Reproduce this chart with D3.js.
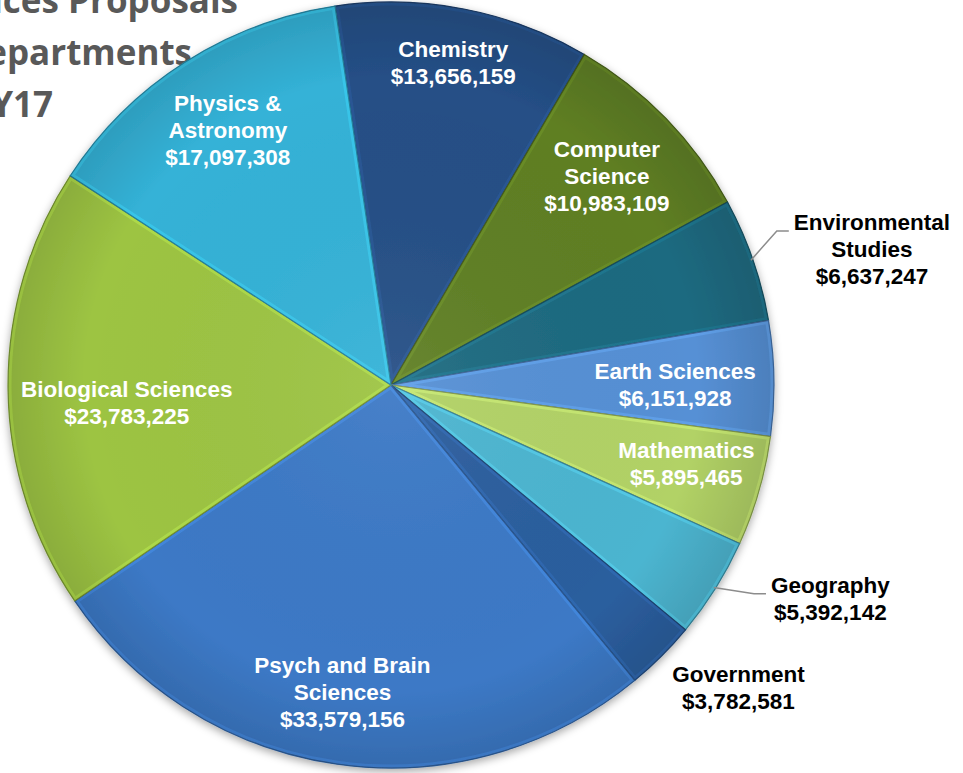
<!DOCTYPE html>
<html>
<head>
<meta charset="utf-8">
<script src="https://cdn.jsdelivr.net/npm/d3@7"></script>
<style>
  body { margin: 0; background: #fff; }
  svg { display: block; }
</style>
</head>
<body>
<div id="viz"></div>
<script>
// Data
const departments = ["Chemistry", "Computer\nScience", "Environmental\nStudies", "Earth Sciences",
    "Mathematics", "Geography", "Government", "Psych and Brain\nSciences",
    "Biological Sciences", "Physics &\nAstronomy"];
const amounts = [13656159, 10983109, 6637247, 6151928, 5895465, 5392142, 3782581, 33579156, 23783225, 17097308];
const colors = ["#254f86", "#5f7f24", "#1d6a80", "#5690d5", "#b2d266", "#4cb5d0", "#2b5e9e", "#3c79c6", "#9dc443", "#34b2d7"];
const titleLines = ["Sciences Proposals", "by Departments", "FY17"];

const width = 963;
const height = 773;
const cx = 391, cy = 385, R = 383;

// label placement: radius factor + nudge, outside labels are black with leaders
const labelLayout = [
    { k: 0.855, dx: 0, dy: -1 },
    { k: 0.785, dx: 0, dy: 0 },
    { k: 1.26, dx: 25, dy: 22, outside: true, leader: true },
    { k: 0.742, dx: 0, dy: 4 },
    { k: 0.797, dx: 2, dy: -6 },
    { k: 1.2, dx: 50, dy: -31, outside: true, leader: true },
    { k: 1.2, dx: 23, dy: -23, outside: true },
    { k: 0.81, dx: -5, dy: 0 },
    { k: 0.69, dx: 0, dy: 15 },
    { k: 0.79, dx: 0, dy: 0 }
];

const svg = d3.select("#viz")
    .append("svg")
    .attr("width", width)
    .attr("height", height);

const defs = svg.append("defs");

const shadow = defs.append("filter")
    .attr("id", "shadow")
    .attr("x", "-10%").attr("y", "-10%")
    .attr("width", "120%").attr("height", "120%");
shadow.append("feDropShadow")
    .attr("dx", 0).attr("dy", 3)
    .attr("stdDeviation", 4)
    .attr("flood-color", "#000")
    .attr("flood-opacity", 0.35);

// rim shading for a slight domed look
const rim = defs.append("radialGradient")
    .attr("id", "rim")
    .attr("cx", "50%").attr("cy", "50%").attr("r", "50%");
rim.append("stop").attr("offset", "0%").attr("stop-color", "#fff").attr("stop-opacity", 0.06);
rim.append("stop").attr("offset", "80%").attr("stop-color", "#000").attr("stop-opacity", 0);
rim.append("stop").attr("offset", "100%").attr("stop-color", "#000").attr("stop-opacity", 0.12);

// Title (runs off the left edge like the source slide)
svg.append("g")
    .selectAll("text")
    .data(titleLines)
    .join("text")
    .attr("x", (d, i) => [238, 192, 53][i])
    .attr("y", (d, i) => 13 + i * 52)
    .attr("text-anchor", "end")
    .style("font-family", "'Open Sans', sans-serif")
    .style("font-weight", "bold")
    .style("font-size", "35px")
    .style("fill", "#595959")
    .text(d => d);

const data = departments.map((name, i) => ({ name, amount: amounts[i], color: colors[i], layout: labelLayout[i] }));

const start = -8.4 * Math.PI / 180;
const pie = d3.pie()
    .sort(null)
    .value(d => d.amount)
    .startAngle(start)
    .endAngle(start + 2 * Math.PI);

const arcs = pie(data);

const arc = d3.arc().innerRadius(0).outerRadius(R);

const g = svg.append("g")
    .attr("transform", `translate(${cx},${cy})`);

const pieG = g.append("g").attr("filter", "url(#shadow)");

arcs.forEach((a, i) => {
    defs.append("clipPath")
        .attr("id", "clip" + i)
        .append("path")
        .attr("d", arc(a));
});

const slice = pieG.selectAll("g.slice")
    .data(arcs)
    .join("g")
    .attr("class", "slice");

slice.append("path")
    .attr("d", arc)
    .style("fill", d => d.data.color);

// inner bevel highlight clipped to each slice
slice.append("path")
    .attr("d", arc)
    .attr("clip-path", (d, i) => `url(#clip${i})`)
    .style("fill", "none")
    .style("stroke", d => d3.color(d.data.color).brighter(0.6))
    .style("stroke-opacity", 0.45)
    .style("stroke-width", 7);

slice.append("path")
    .attr("d", arc)
    .style("fill", "none")
    .style("stroke", d => d3.color(d.data.color).darker(0.9))
    .style("stroke-width", 1.2);

pieG.append("circle")
    .attr("r", R)
    .style("fill", "url(#rim)")
    .style("pointer-events", "none");

// Labels
const fmt = d3.format("$,");
const lineH = 27;

function polar(angle, r) {
    return [r * Math.sin(angle), -r * Math.cos(angle)];
}

arcs.forEach(a => {
    const L = a.data.layout;
    const mid = (a.startAngle + a.endAngle) / 2;
    const [px, py] = polar(mid, R * L.k);
    const x = px + L.dx, y = py + L.dy;
    const lines = a.data.name.split("\n").concat(fmt(a.data.amount));
    const n = lines.length;

    const t = g.append("text")
        .attr("text-anchor", "middle")
        .style("font-family", "'Liberation Sans', Arial, sans-serif")
        .style("font-weight", "bold")
        .style("font-size", "22.5px")
        .style("fill", L.outside ? "#000" : "#fff");

    lines.forEach((ln, i) => {
        t.append("tspan")
            .attr("x", x)
            .attr("y", y + (i - (n - 1) / 2) * lineH)
            .attr("dy", "0.36em")
            .text(ln);
    });

    if (L.leader) {
        const first = t.select("tspan").node().getComputedTextLength();
        const y0 = y - (n - 1) / 2 * lineH + 9;
        const ex = x - first / 2 - 5;
        const edge = polar(mid, R - 2);
        g.append("polyline")
            .attr("points", [edge, [ex - 12, y0], [ex, y0]].map(p => p.join(",")).join(" "))
            .style("fill", "none")
            .style("stroke", "#8c8c8c")
            .style("stroke-width", 1.5);
    }
});
</script>
</body>
</html>
